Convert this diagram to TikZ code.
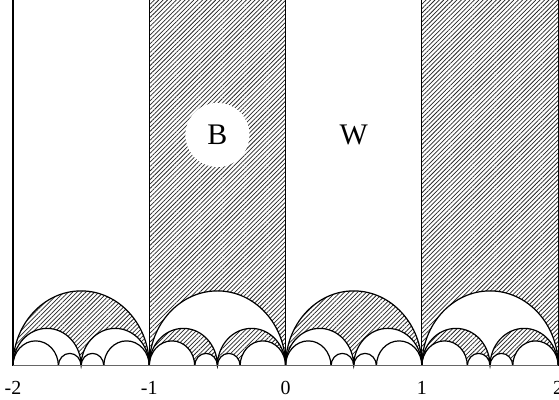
\documentclass[tikz,border=0pt]{standalone}
\usepackage{fontspec}
\setmainfont{Liberation Serif}
\usetikzlibrary{patterns.meta}

\begin{document}
\begin{tikzpicture}[x=4.808cm, y=5.289cm,
    hatch/.style={pattern={Lines[angle=45, distance=3.1bp, line width=0.75bp]}, pattern color=black!85},
    geod/.style={black, line width=1.2bp},
    ticklbl/.style={font=\fontsize{20}{23}\selectfont},
    regionlbl/.style={font=\fontsize{30}{34}\selectfont}]
  \useasboundingbox (-2.095,-0.227) rectangle (2.006,2.44);

  % Shaded strips above the unit semicircles
  \fill[hatch] (-1,2.44) -- (-1,0) arc[start angle=180, end angle=0, radius=0.5] -- (0,2.44) -- cycle;
  \fill[hatch] (1,2.44) -- (1,0) arc[start angle=180, end angle=0, radius=0.5] -- (2,2.44) -- cycle;

  % Shaded triangles below the white strips
  \foreach \n in {-2,0} {
    \fill[hatch] (\n,0) arc[start angle=180, end angle=0, radius=0.5]
      arc[start angle=0, end angle=180, radius=0.25]
      arc[start angle=0, end angle=180, radius=0.25];
  }

  % Shaded triangles below the shaded strips
  \foreach \n in {-1,1} {
    \fill[hatch] (\n,0) arc[start angle=180, end angle=0, radius=0.25]
      arc[start angle=0, end angle=180, radius=0.0833333]
      arc[start angle=0, end angle=180, radius=0.1666667];
    \fill[hatch] (\n+0.5,0) arc[start angle=180, end angle=0, radius=0.25]
      arc[start angle=0, end angle=180, radius=0.1666667]
      arc[start angle=0, end angle=180, radius=0.0833333];
  }

  % Geodesics
  \foreach \n in {-2,...,1} {
    \draw[geod] (\n,0) arc[start angle=180, end angle=0, radius=0.5];
    \draw[geod] (\n,0) arc[start angle=180, end angle=0, radius=0.25]
      arc[start angle=180, end angle=0, radius=0.25];
    \draw[geod] (\n,0) arc[start angle=180, end angle=0, radius=0.1666667];
    \draw[geod] (\n+0.6666667,0) arc[start angle=180, end angle=0, radius=0.1666667];
    \draw[geod] (\n+0.3333333,0) arc[start angle=180, end angle=0, radius=0.0833333]
      arc[start angle=180, end angle=0, radius=0.0833333];
  }
  \foreach \n in {-2,...,2}
    \draw[geod] (\n,0) -- (\n,2.44);
  \draw[black!60, line width=0.8bp] (-2,0) -- (2,0);

  % Axis labels
  \node[ticklbl] (tickm2) at (-2,-0.15) {-2};
  \node[ticklbl] (tickm1) at (-1,-0.15) {-1};
  \node[ticklbl] (tick0) at (0,-0.15) {0};
  \node[ticklbl] (tick1) at (1,-0.15) {1};
  \node[ticklbl] (tick2) at (2,-0.15) {2};

  % Region labels
  \node[regionlbl, circle, fill=white, minimum size=64bp, inner sep=0pt] (B) at (-0.5,1.54) {B};
  \node[regionlbl] (W) at (0.5,1.54) {W};
\end{tikzpicture}
\end{document}
